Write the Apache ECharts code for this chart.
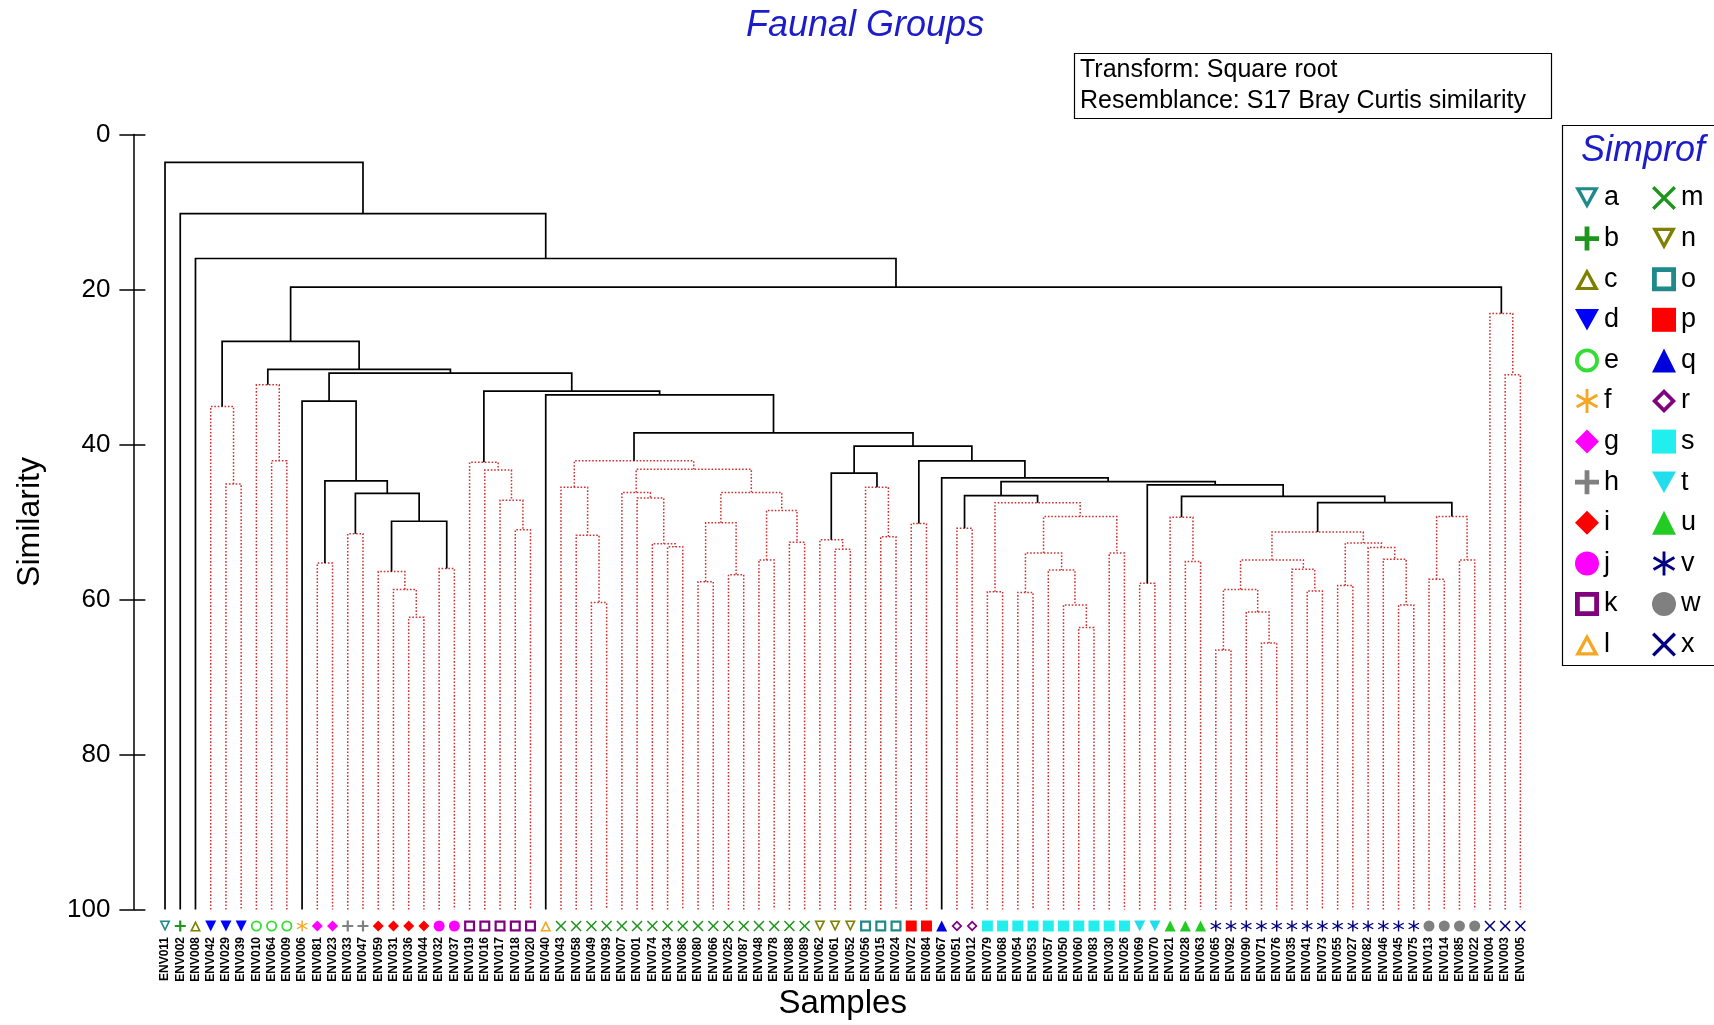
<!DOCTYPE html>
<html><head><meta charset="utf-8">
<script src="https://cdn.jsdelivr.net/npm/echarts@6/dist/echarts.min.js"></script>
<style>html,body{margin:0;padding:0;background:#fff}#c{width:1714px;height:1025px}</style>
</head><body><div id="c"></div>
<script>
// ---------- data ----------
const samples = ['ENV011','ENV002','ENV008','ENV042','ENV029','ENV039','ENV010','ENV064','ENV009','ENV006',
'ENV081','ENV023','ENV033','ENV047','ENV059','ENV031','ENV036','ENV044','ENV032','ENV037',
'ENV019','ENV016','ENV017','ENV018','ENV020','ENV040','ENV043','ENV058','ENV049','ENV093',
'ENV007','ENV001','ENV074','ENV034','ENV086','ENV080','ENV066','ENV025','ENV087','ENV048',
'ENV078','ENV088','ENV089','ENV062','ENV061','ENV052','ENV056','ENV015','ENV024','ENV072',
'ENV084','ENV067','ENV051','ENV012','ENV079','ENV068','ENV054','ENV053','ENV057','ENV050',
'ENV060','ENV083','ENV030','ENV026','ENV069','ENV070','ENV021','ENV028','ENV063','ENV065',
'ENV092','ENV090','ENV071','ENV076','ENV035','ENV041','ENV073','ENV055','ENV027','ENV082',
'ENV046','ENV045','ENV075','ENV013','ENV014','ENV085','ENV022','ENV004','ENV003','ENV005'];

const sampleGroups = ['a','b','c','d','d','d','e','e','e','f','g','g','h','h','i','i','i','i','j','j',
'k','k','k','k','k','l','m','m','m','m','m','m','m','m','m','m','m','m','m','m','m','m','m',
'n','n','n','o','o','o','p','p','q','r','r','s','s','s','s','s','s','s','s','s','s','t','t',
'u','u','u','v','v','v','v','v','v','v','v','v','v','v','v','v','v','w','w','w','w','x','x','x'];

const groupNames  = ['a','b','c','d','e','f','g','h','i','j','k','l','m','n','o','p','q','r','s','t','u','v','w','x'];
const groupColors = ['#1f8a8a','#1e961e','#7f7f00','#0000ff','#33dd33','#f5a623','#ff00ff','#808080','#ff0000','#ff00ff','#800080','#f5a623',
                     '#1e961e','#7f7f00','#1f8a8a','#ff0000','#0000dd','#800080','#22eeee','#22ddee','#22cc22','#000080','#808080','#000080'];
const groupShapes = ['triDownHollow','plus','triUpHollow','triDown','ring','star','diamond','plus','diamond','circle','squareHollow','triUpHollow',
                     'cross','triDownHollow','squareHollow','square','triUp','diamondHollow','square','triDown','triUp','star','circle','cross'];

// dendrogram subtrees: [similarity, left, right]; numbers are sample indices
const tD = [35.1, 3, [45.1, 4, 5]];
const tE = [32.3, 6, [42.1, 7, 8]];
const tG = [55.3, 10, 11];
const tH = [51.5, 12, 13];
const tI = [56.4, 14, [58.7, 15, [62.3, 16, 17]]];
const tJ = [56.0, 18, 19];
const tK = [42.3, 20, [43.3, 21, [47.2, 22, [51.0, 23, 24]]]];
const tM = [42.1, [45.5, 26, [51.7, 27, [60.4, 28, 29]]],
                  [43.2, [46.2, 30, [46.9, 31, [52.8, 32, [53.2, 33, 34]]]],
                         [46.2, [50.1, [57.7, 35, 36], [56.8, 37, 38]],
                                [48.5, [54.9, 39, 40], [52.6, 41, 42]]]]];
const tN = [52.3, 43, [53.5, 44, 45]];
const tO = [45.5, 46, [51.9, 47, 48]];
const tP = [50.2, 49, 50];
const tR = [50.8, 52, 53];
const tS = [47.5, [59.0, 54, 55],
                  [49.3, [54.0, [59.1, 56, 57], [56.2, 58, [60.7, 59, [63.6, 60, 61]]]], [54.0, 62, 63]]];
const tT = [57.9, 64, 65];
const tU = [49.4, 66, [55.1, 67, 68]];
const tV = [51.3, [54.9, [58.7, [66.5, 69, 70], [61.6, 71, [65.6, 72, 73]]], [56.1, 74, [58.9, 75, 76]]],
                  [52.7, [58.2, 77, 78], [53.3, 79, [54.8, 80, [60.7, 81, 82]]]]];
const tW = [49.3, [57.4, 83, 84], [54.9, 85, 86]];
const tX = [23.1, 87, [31.0, 88, 89]];

const tB    = [34.4, 9, [44.7, tG, [46.3, tH, [49.9, tI, tJ]]]];
const tRS   = [46.6, tR, tS];
const tUVW  = [46.7, tU, [47.5, tV, tW]];
const tRtoW = [44.8, tRS, [45.2, tT, tUVW]];
const tPtoW = [42.1, tP, [44.3, 51, tRtoW]];
const tMtoW = [38.5, tM, [40.2, [43.7, tN, tO], tPtoW]];
const tKtoW = [33.1, tK, [33.6, 25, tMtoW]];
const tDtoW = [26.7, tD, [30.3, tE, [30.8, tB, tKtoW]]];
const tree  = [3.6, 0, [10.2, 1, [16.0, 2, [19.7, tDtoW, tX]]]];

const yTicks = [0, 20, 40, 60, 80, 100];

// ---------- build segments ----------
const redSegs = [], blackSegs = [];
function walk(n) {
  if (typeof n === 'number') return { x: n, y: 100, g: sampleGroups[n], mixed: false };
  const L = walk(n[1]), R = walk(n[2]);
  const same = !L.mixed && !R.mixed && L.g === R.g;
  (same ? redSegs : blackSegs).push([L.x, L.y, R.x, R.y, n[0]]);
  return { x: (L.x + R.x) / 2, y: n[0], g: L.g, mixed: !same };
}
walk(tree);

const P = {
  triDownHollow: 'path://M0,0L10,0L5,9Z M2.4,1.3L5,6.2L7.6,1.3Z',
  triUpHollow: 'path://M5,0L10,9L0,9Z M5,2.8L2.4,7.7L7.6,7.7Z',
  triDown: 'path://M0,0L10,0L5,9Z',
  triUp: 'triangle',
  plus: 'path://M4,0H6V4H10V6H6V10H4V6H0V4H4Z',
  ring: 'path://M5,0A5,5 0 1,1 4.99,0Z M5,1.6A3.4,3.4 0 1,0 5.01,1.6Z',
  star: 'path://M4.4,10L5.6,10L5.6,0L4.4,0Z M9.03,8.02L9.63,6.98L0.97,1.98L0.37,3.02Z M0.37,6.98L0.97,8.02L9.63,3.02L9.03,1.98Z',
  diamond: 'diamond',
  diamondHollow: 'path://M5,0L10,5L5,10L0,5Z M5,2.2L2.2,5L5,7.8L7.8,5Z',
  squareHollow: 'path://M0,0H10V10H0Z M2,2V8H8V2Z',
  square: 'rect',
  circle: 'circle',
  cross: 'path://M1,0L5,4L9,0L10,1L6,5L10,9L9,10L5,6L1,10L0,9L4,5L0,1Z'
};

const FONT = 'Liberation Sans, Arial, sans-serif';
const BLUE = '#1c1cc8';

function seg(color, width, dash) {
  return function (params, api) {
    const p1 = api.coord([api.value(0), api.value(1)]);
    const p2 = api.coord([api.value(0), api.value(4)]);
    const p3 = api.coord([api.value(2), api.value(4)]);
    const p4 = api.coord([api.value(2), api.value(3)]);
    return { type: 'polyline', shape: { points: [p1, p2, p3, p4] },
      style: { stroke: color, lineWidth: width, fill: null, lineDash: dash } };
  };
}

const scatterSeries = groupNames.map((g, k) => ({
  type: 'scatter', name: g, xAxisIndex: 1, yAxisIndex: 2,
  symbol: P[groupShapes[k]], symbolSize: 11,
  itemStyle: { color: groupColors[k], opacity: 1 },
  data: sampleGroups.map((sg, i) => sg === g ? [i, 0.5] : null).filter(d => d),
  silent: true
}));

const legendBase = {
  orient: 'vertical', top: 183, itemWidth: 24, itemHeight: 24, itemGap: 10.6,
  selectedMode: false, padding: 0,
  textStyle: { fontSize: 27, lineHeight: 30, color: '#000', fontFamily: FONT }
};

const chart = echarts.init(document.getElementById('c'), null, { renderer: 'canvas' });
chart.setOption({
  animation: false,
  backgroundColor: '#fff',
  title: [
    { text: 'Faunal Groups', left: 746, top: 8, padding: 0,
      textStyle: { fontSize: 36, fontStyle: 'italic', fontWeight: 'normal', color: BLUE, fontFamily: FONT } },
    { text: 'Transform: Square root\nResemblance: S17 Bray Curtis similarity', left: 1074, top: 53,
      borderWidth: 1.2, borderColor: '#000', padding: [2, 26, 2, 6],
      textStyle: { fontSize: 25, lineHeight: 31, fontWeight: 'normal', color: '#000', fontFamily: FONT } },
    { text: 'Simprof', left: 1581, top: 133, padding: 0,
      textStyle: { fontSize: 36, fontStyle: 'italic', fontWeight: 'normal', color: BLUE, fontFamily: FONT } }
  ],
  graphic: [
    { type: 'rect', left: 1560, top: 123, shape: { width: 200, height: 540 },
      style: { fill: 'none', stroke: '#000', lineWidth: 1.2 }, z: -1 }
  ],
  legend: [
    Object.assign({}, legendBase, { left: 1575, data: groupNames.slice(0, 12) }),
    Object.assign({}, legendBase, { left: 1652, data: groupNames.slice(12) })
  ],
  grid: [
    { left: 157.4, top: 134.5, width: 1370.6, height: 775, outerBoundsMode: 'none' },
    { left: 157.4, top: 918, width: 1370.6, height: 16, outerBoundsMode: 'none' }
  ],
  xAxis: [
    { type: 'value', gridIndex: 0, min: -0.5, max: 89.5, show: false },
    { type: 'category', gridIndex: 1, data: samples, boundaryGap: true,
      axisLine: { show: false }, axisTick: { show: false },
      axisLabel: { interval: 0, rotate: 90, margin: 3, fontSize: 12, fontWeight: 'bold', color: '#000', fontFamily: FONT },
      name: 'Samples', nameLocation: 'middle', nameGap: 53,
      nameTextStyle: { fontSize: 33, color: '#000', fontFamily: FONT } }
  ],
  yAxis: [
    { type: 'value', gridIndex: 0, position: 'left', inverse: true, min: 0, max: 100, interval: 20, offset: 24,
      axisLine: { show: true, onZero: false, lineStyle: { color: '#000', width: 1.5 } },
      axisTick: { show: true, length: 14, lineStyle: { color: '#000', width: 1.5 } },
      axisLabel: { fontSize: 26, color: '#000', margin: 23, fontFamily: FONT },
      splitLine: { show: false },
      name: 'Similarity', nameLocation: 'middle', nameGap: 87, nameRotate: 90,
      nameTextStyle: { fontSize: 32, color: '#000', fontFamily: FONT } },
    { type: 'value', gridIndex: 0, position: 'left', inverse: true, min: 0, max: 100, interval: 20, offset: 24,
      axisLine: { show: false, onZero: false },
      axisTick: { show: true, inside: true, length: 12, lineStyle: { color: '#000', width: 1.5 } },
      axisLabel: { show: false }, splitLine: { show: false } },
    { type: 'value', gridIndex: 1, min: 0, max: 1, show: false }
  ],
  series: [
    { type: 'custom', xAxisIndex: 0, yAxisIndex: 0, silent: true, z: 2,
      renderItem: seg('#d03030', 1.5, [1.6, 1.8]),
      encode: { x: [0, 2], y: [1, 3, 4] }, data: redSegs },
    { type: 'custom', xAxisIndex: 0, yAxisIndex: 0, silent: true, z: 3,
      renderItem: seg('#000', 1.7, null),
      encode: { x: [0, 2], y: [1, 3, 4] }, data: blackSegs }
  ].concat(scatterSeries)
});
</script></body></html>
